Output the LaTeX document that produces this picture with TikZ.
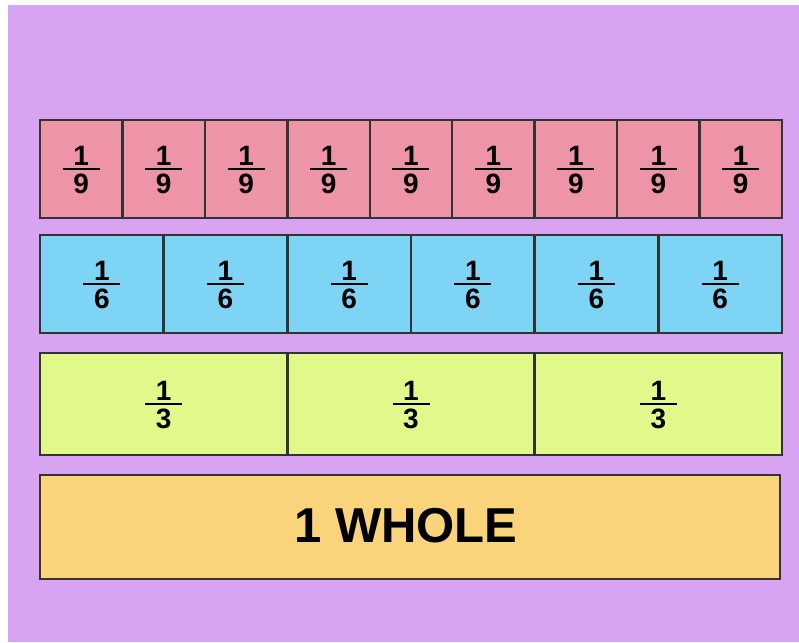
\documentclass[tikz,border=0pt]{standalone}
\usepackage{fontspec}
\setmainfont{Liberation Sans}
\definecolor{bgc}{RGB}{216,163,240}
\definecolor{pinkc}{RGB}{237,149,167}
\definecolor{bluec}{RGB}{125,212,244}
\definecolor{limec}{RGB}{224,249,138}
\definecolor{orangec}{RGB}{249,212,123}
\definecolor{edgec}{RGB}{51,51,51}
\begin{document}
\begin{tikzpicture}[x=1pt,y=-1pt,
  cell/.style={draw=edgec, line width=2.5pt, inner sep=0pt, outer sep=0pt},
  num/.style={font=\bfseries\fontsize{28}{28}\selectfont, inner sep=0pt, text=black},
  fracbar/.style={line width=2pt, draw=black},
  bigtext/.style={font=\bfseries\fontsize{49}{49}\selectfont, inner sep=0pt, text=black}]
\useasboundingbox (0,0) rectangle (799,642);
\fill[white] (0,0) rectangle (799,642);
\fill[bgc] (8,5) rectangle (799,642);
% ninths
\foreach \i in {1,...,9} {
  \node[cell, fill=pinkc, minimum width=82.44pt, minimum height=98pt] (a\i) at ({40+(\i-0.5)*82.44},169) {};
  \draw[fracbar] ([xshift=-18.5pt]a\i.center) -- ([xshift=18.5pt]a\i.center);
  \node[num, anchor=base] (an\i) at ([yshift=4pt]a\i.center) {1};
  \node[num, anchor=base] (ad\i) at ([yshift=-24.5pt]a\i.center) {9};
}
% sixths
\foreach \i in {1,...,6} {
  \node[cell, fill=bluec, minimum width=123.67pt, minimum height=98pt] (b\i) at ({40+(\i-0.5)*123.67},284) {};
  \draw[fracbar] ([xshift=-18.5pt]b\i.center) -- ([xshift=18.5pt]b\i.center);
  \node[num, anchor=base] (bn\i) at ([yshift=4pt]b\i.center) {1};
  \node[num, anchor=base] (bd\i) at ([yshift=-24.5pt]b\i.center) {6};
}
% thirds
\foreach \i in {1,...,3} {
  \node[cell, fill=limec, minimum width=247.33pt, minimum height=102pt] (c\i) at ({40+(\i-0.5)*247.33},404) {};
  \draw[fracbar] ([xshift=-18.5pt]c\i.center) -- ([xshift=18.5pt]c\i.center);
  \node[num, anchor=base] (cn\i) at ([yshift=4pt]c\i.center) {1};
  \node[num, anchor=base] (cd\i) at ([yshift=-24.5pt]c\i.center) {3};
}
% whole
\node[cell, fill=orangec, minimum width=740pt, minimum height=104pt] (w) at (410,527) {};
\node[bigtext, anchor=base] (wt) at (406,542) {1 WHOLE};
\end{tikzpicture}
\end{document}
